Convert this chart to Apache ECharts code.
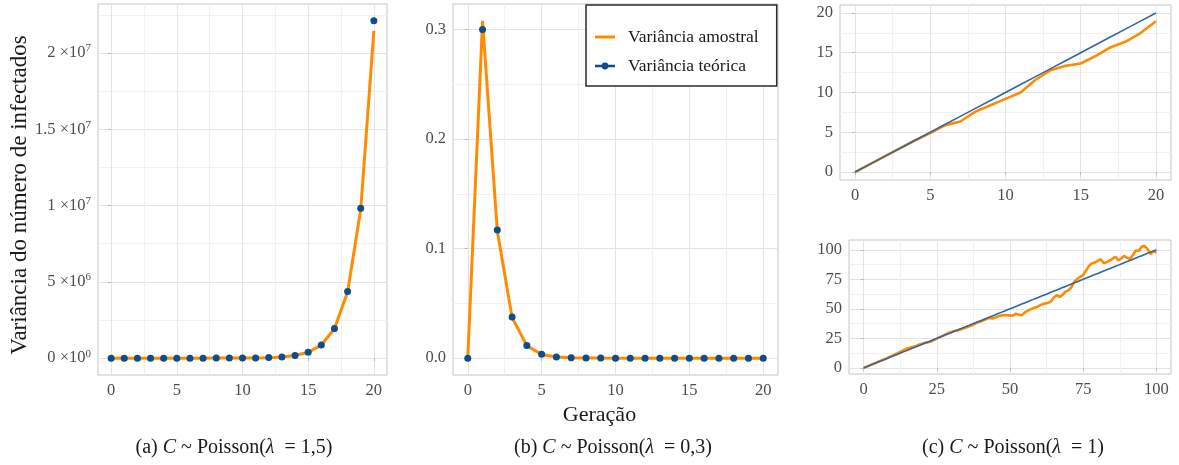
<!DOCTYPE html>
<html>
<head>
<meta charset="utf-8">
<script src="https://cdn.jsdelivr.net/npm/echarts@6/dist/echarts.min.js"></script>
<style>
html,body{margin:0;padding:0;background:#fff;}
#chart{width:1179px;height:465px;}
</style>
</head>
<body>
<div id="chart"></div>
<script>
// ---------- DATA ----------
const geracoes20 = [0,1,2,3,4,5,6,7,8,9,10,11,12,13,14,15,16,17,18,19,20];

// (a) C ~ Poisson(1,5)
const amostralA = [0, 1.5, 5.6, 16, 41, 100, 237, 548, 1258, 2869, 6510, 14720, 33250, 75000, 169000, 381000, 858000, 1930000, 4330000, 9750000, 21450000];
const teoricaA  = [0, 1.5, 5.625, 16.03, 41.13, 100.1, 236.7, 549.7, 1262, 2879, 6535, 14790, 33409, 75364, 169862, 382627, 861564, 1939507, 4365300, 9824320, 22107900];

// (b) C ~ Poisson(0,3)
const amostralB = [0, 0.308, 0.116, 0.0372, 0.0113, 0.0034, 0.0010, 0.0003, 0.0001, 0.00003, 0.00001, 0.000003, 0.000001, 0, 0, 0, 0, 0, 0, 0, 0];
const teoricaB  = [0, 0.3, 0.117, 0.03753, 0.011478, 0.003463, 0.0010407, 0.00031243, 0.0000937, 0.0000281, 0.00000843, 0.00000253, 0.00000076, 0.00000023, 0.000000068, 0.00000002, 0.000000006, 0.0000000018, 0.00000000055, 0.00000000017, 0.00000000005];

// (c) C ~ Poisson(1), 20 gerações
const amostralC1 = [0, 1, 2, 3, 4, 4.9, 5.9, 6.35, 7.6, 8.4, 9.2, 10.0, 11.6, 12.8, 13.35, 13.65, 14.6, 15.7, 16.4, 17.5, 18.95];
const teoricaC1  = [0,1,2,3,4,5,6,7,8,9,10,11,12,13,14,15,16,17,18,19,20];

// (c) C ~ Poisson(1), 100 gerações
const geracoes100 = [0,1,2,3,4,5,6,7,8,9,10,11,12,13,14,15,16,17,18,19,20,21,22,23,24,25,26,27,28,29,30,31,32,33,34,35,36,37,38,39,40,41,42,43,44,45,46,47,48,49,50,51,52,53,54,55,56,57,58,59,60,61,62,63,64,65,66,67,68,69,70,71,72,73,74,75,76,77,78,79,80,81,82,83,84,85,86,87,88,89,90,91,92,93,94,95,96,97,98,99,100];
const amostralC2 = [0,1.1,2.0,3.2,4.1,5.3,6.2,7.4,8.3,9.5,10.6,11.8,13.0,14.2,15.5,16.6,17.2,17.9,18.6,19.8,20.5,21.2,21.8,22.4,23.5,24.8,26.0,27.1,28.3,29.6,30.4,31.2,31.6,32.5,33.4,34.2,35.3,36.1,37.4,38.5,39.2,40.3,41.5,42.3,41.9,42.6,43.7,44.3,44.8,44.5,44.6,44.2,45.9,45.1,44.6,46.8,48.4,49.5,50.6,51.3,52.7,53.8,54.6,55.0,56.3,59.8,61.5,60.1,61.9,64.6,65.8,68.3,72.9,75.2,77.1,78.6,82.4,86.3,88.5,89.1,90.6,92.0,88.7,89.5,90.8,92.3,94.1,91.0,92.6,94.8,93.2,92.1,95.6,99.4,98.9,102.8,103.1,100.6,96.4,98.8,97.6];
const teoricaC2  = [0,1,2,3,4,5,6,7,8,9,10,11,12,13,14,15,16,17,18,19,20,21,22,23,24,25,26,27,28,29,30,31,32,33,34,35,36,37,38,39,40,41,42,43,44,45,46,47,48,49,50,51,52,53,54,55,56,57,58,59,60,61,62,63,64,65,66,67,68,69,70,71,72,73,74,75,76,77,78,79,80,81,82,83,84,85,86,87,88,89,90,91,92,93,94,95,96,97,98,99,100];

// tick labels / breaks
const ticks20 = [0,5,10,15,20];
const minor20 = [2.5,7.5,12.5,17.5];
const ticksA = [0,5e6,1e7,1.5e7,2e7];
const minorA = [2.5e6,7.5e6,1.25e7,1.75e7,2.25e7];
const ticksB = [0,0.1,0.2,0.3];
const minorB = [0.05,0.15,0.25];
const ticks100 = [0,25,50,75,100];
const minor100 = [12.5,37.5,62.5,87.5];

const nomeAmostral = 'Variância amostral';
const nomeTeorica = 'Variância teórica';
const tituloY = 'Variância do número de infectados';
const tituloX = 'Geração';
const legendas = ['(a) {i|C} ~ Poisson({i|λ}  = 1,5)', '(b) {i|C} ~ Poisson({i|λ}  = 0,3)', '(c) {i|C} ~ Poisson({i|λ}  = 1)'];

// ---------- STYLE ----------
const FONT = 'Liberation Serif';
const ORANGE = '#FF8C00';
const BLUE = '#0F4C8C';
const BLUE_LINE = '#2F67A3';
const LABEL = '#4d4d4d';
const MAJOR = '#e4e4e4';
const MINORC = '#f1f1f1';

function pairs(xs, ys){ return xs.map((x,i)=>[x, ys[i]]); }

function mainAxis(gi, min, max, majors, fmt, extra){
  return Object.assign({
    type:'value', gridIndex: gi, min, max,
    axisLine:{show:false},
    axisTick:{show:true, customValues: majors, length:3, lineStyle:{color:'#b8b8b8', width:1}},
    axisLabel:{customValues: majors, formatter: fmt, margin:7, color: LABEL, fontFamily: FONT, fontSize:16.5},
    splitLine:{show:true, customValues: majors, lineStyle:{color: MAJOR, width:1}},
    minorSplitLine:{show:false}
  }, extra||{});
}
function minorAxis(gi, min, max, minors){
  return {
    type:'value', gridIndex: gi, min, max,
    axisLine:{show:false},
    axisTick:{show:false, customValues: minors},
    axisLabel:{show:false, customValues: minors},
    splitLine:{show:true, customValues: minors, lineStyle:{color: MINORC, width:1}}
  };
}
function fmtInt(v){ return String(Math.round(v)); }
function fmtSci(v){
  if (v === 0) return '{m|0 ×10}{s|0}';
  const e = Math.floor(Math.log10(v) + 1e-9);
  const m = +(v / Math.pow(10, e)).toFixed(2);
  return '{m|' + m + ' ×10}{s|' + e + '}';
}

const chart = echarts.init(document.getElementById('chart'), null, {renderer:'canvas'});

const gridStyle = {show:true, borderColor:'#c6c6c6', borderWidth:1, backgroundColor:'#fff', containLabel:false};

const xAxes = [
  mainAxis(0, -1, 21, ticks20, fmtInt), minorAxis(0, -1, 21, minor20),
  mainAxis(1, -1, 21, ticks20, fmtInt, {name: tituloX, nameLocation:'middle', nameGap:23,
    nameTextStyle:{fontFamily:FONT, fontSize:22, color:'#1a1a1a', padding:[0,32,0,0]}}), minorAxis(1, -1, 21, minor20),
  mainAxis(2, -1, 21, ticks20, fmtInt), minorAxis(2, -1, 21, minor20),
  mainAxis(3, -5, 105, ticks100, fmtInt), minorAxis(3, -5, 105, minor100)
];
const sciRich = {
  m:{fontFamily:FONT, fontSize:16.5, color:LABEL},
  s:{fontFamily:FONT, fontSize:11, color:LABEL, padding:[0,0,9,0]}
};
const yAxes = [
  mainAxis(0, -1.1055e6, 2.3213e7, ticksA, fmtSci, {name: tituloY, nameLocation:'middle', nameGap:66,
    nameTextStyle:{fontFamily:FONT, fontSize:23, color:'#1a1a1a', padding:[0,11,0,0]}}),
  minorAxis(0, -1.1055e6, 2.3213e7, minorA),
  mainAxis(1, -0.0154, 0.3234, ticksB, v => v.toFixed(1)), minorAxis(1, -0.0154, 0.3234, minorB),
  mainAxis(2, -1, 21, ticks20, fmtInt), minorAxis(2, -1, 21, minor20),
  mainAxis(3, -5.155, 108.26, ticks100, fmtInt), minorAxis(3, -5.155, 108.26, minor100)
];
yAxes[0].axisLabel.rich = sciRich;

function lineS(name, xi, yi, data, color, width, z){
  return {name, type:'line', xAxisIndex:xi, yAxisIndex:yi, data, symbol:'none', showSymbol:false,
    lineStyle:{color, width}, itemStyle:{color}, z: z||2, animation:false, silent:true};
}
function pointS(name, xi, yi, data){
  return {name, type:'scatter', xAxisIndex:xi, yAxisIndex:yi, data, symbol:'circle', symbolSize:7,
    itemStyle:{color:BLUE, opacity:1}, z:3, animation:false, silent:true};
}

const series = [
  lineS(nomeAmostral, 0, 0, pairs(geracoes20, amostralA), ORANGE, 3),
  pointS(nomeTeorica, 0, 0, pairs(geracoes20, teoricaA)),
  lineS(nomeAmostral, 2, 2, pairs(geracoes20, amostralB), ORANGE, 3),
  pointS(nomeTeorica, 2, 2, pairs(geracoes20, teoricaB)),
  lineS(nomeAmostral, 4, 4, pairs(geracoes20, amostralC1), ORANGE, 2.6),
  lineS(nomeTeorica, 4, 4, pairs(geracoes20, teoricaC1), BLUE_LINE, 1.6, 3),
  lineS(nomeAmostral, 6, 6, pairs(geracoes100, amostralC2), ORANGE, 2.6),
  lineS(nomeTeorica, 6, 6, pairs(geracoes100, teoricaC2), BLUE_LINE, 1.6, 3)
];

const iconLine = 'path://M0,0L0.01,0Z M0,5.6L20,5.6L20,8.4L0,8.4Z M20,14L19.99,14Z';
const iconDot = 'path://M0,0L0.01,0Z M0,5.7L20,5.7L20,8.3L0,8.3Z M6.6,7A3.4,3.4 0 1 1 13.4,7A3.4,3.4 0 1 1 6.6,7Z M20,14L19.99,14Z';

const captionX = [234, 613, 1013];
const graphics = legendas.map((t, i) => ({
  type:'text', x: captionX[i], y: 448, silent:true,
  style:{text: t, fontFamily: FONT, fontSize: 20, fill:'#1a1a1a', align:'center', verticalAlign:'middle',
    rich:{i:{fontFamily:FONT, fontSize:20, fontStyle:'italic', fill:'#1a1a1a'}}}
}));

chart.setOption({
  animation:false,
  backgroundColor:'#fff',
  grid:[
    Object.assign({left:98, top:4, width:289, height:371}, gridStyle),
    Object.assign({left:453, top:4, width:325, height:371}, gridStyle),
    Object.assign({left:840, top:5, width:331, height:175}, gridStyle),
    Object.assign({left:849, top:240, width:322, height:134}, gridStyle)
  ],
  xAxis: xAxes,
  yAxis: yAxes,
  legend:{
    show:true, orient:'vertical', left:586, top:5, selectedMode:false,
    itemWidth:20, itemHeight:14, itemGap:11,
    padding:[23,18,11,9],
    borderColor:'#2b2b2b', borderWidth:1.5, backgroundColor:'#fff',
    textStyle:{fontFamily:FONT, fontSize:17.5, color:'#1a1a1a', padding:[0,0,0,8]},
    data:[
      {name:nomeAmostral, icon: iconLine, itemStyle:{color:ORANGE}},
      {name:nomeTeorica, icon: iconDot, itemStyle:{color:BLUE}}
    ]
  },
  graphic: graphics,
  series
});
</script>
</body>
</html>
